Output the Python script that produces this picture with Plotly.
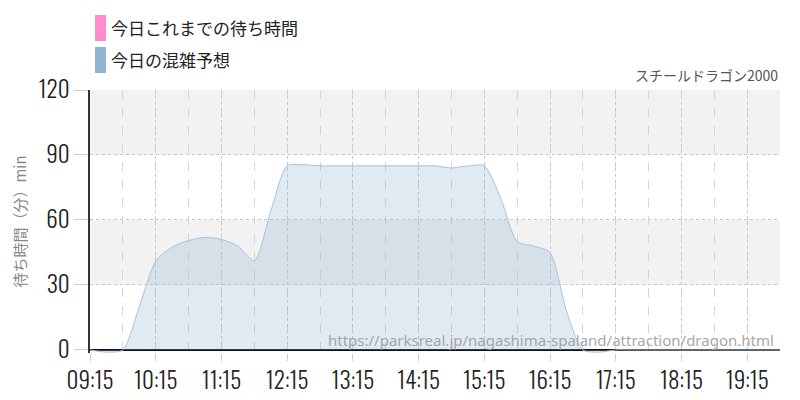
import plotly.graph_objects as go

# ---- data ----
times = ["09:15", "09:30", "09:45", "10:00", "10:15", "10:30", "10:45", "11:00", "11:15",
         "11:30", "11:45", "12:00", "12:15", "12:30", "12:45", "13:00", "13:15", "13:30",
         "13:45", "14:00", "14:15", "14:30", "14:45", "15:00", "15:15", "15:30", "15:45",
         "16:00", "16:15", "16:30", "16:45", "17:00", "17:15", "17:30", "17:45", "18:00",
         "18:15", "18:30", "18:45", "19:00", "19:15", "19:30", "19:45"]
forecast = [0, -1, 0, 20, 41, 47.5, 50.5, 52, 51,
            48, 41, 64, 85, 85.5, 85, 85, 85, 85,
            85, 85, 85, 85, 84, 85, 85, 70, 50,
            48, 45, 18, 0, -1, 0, 0, 0, 0,
            0, 0, 0, 0, 0, 0, 0]
actual_times = []
actual_values = []
tick_labels = ["09:15", "10:15", "11:15", "12:15", "13:15", "14:15", "15:15",
               "16:15", "17:15", "18:15", "19:15"]
y_ticks = [0, 30, 60, 90, 120]
band_ranges = [(30, 60), (90, 120)]

title_text = "スチールドラゴン2000"
legend_labels = ["今日これまでの待ち時間", "今日の混雑予想"]
legend_colors = ["#ff8ccb", "#8fb3d3"]
y_title = "待ち時間（分）min"
url_text = "https://parksreal.jp/nagashima-spaland/attraction/dragon.html"

day = "2024-01-01 "
xs = [day + t for t in times]

W, H = 800, 400
ML, MR, MT, MB = 90, 20, 90, 47
PW, PH = W - ML - MR, H - MT - MB

def px(xp):
    return (xp - ML) / PW

def py(yp):
    return (H - MB - yp) / PH

fig = go.Figure()

fig.add_trace(go.Scatter(
    x=[day + t for t in actual_times], y=actual_values, mode="lines",
    line=dict(color=legend_colors[0], width=1), fill="tozeroy",
    showlegend=False))

fig.add_trace(go.Scatter(
    x=xs, y=forecast, mode="lines",
    line=dict(color="#a7c3dc", width=1, shape="spline", smoothing=0.7),
    fill="tozeroy", fillcolor="rgba(143,179,211,0.28)",
    showlegend=False, hoverinfo="skip"))

shapes = []
for lo, hi in band_ranges:
    shapes.append(dict(type="rect", xref="paper", yref="y", x0=0, x1=1, y0=lo, y1=hi,
                       fillcolor="#f2f2f2", line=dict(width=0), layer="below"))

annotations = []
for i, (lab, col) in enumerate(zip(legend_labels, legend_colors)):
    top = 15 + i * 32
    shapes.append(dict(type="rect", xref="paper", yref="paper",
                       x0=px(95), x1=px(106), y0=py(top + 26), y1=py(top),
                       fillcolor=col, line=dict(width=0)))
    annotations.append(dict(xref="paper", yref="paper", x=px(109), y=py(top + 13),
                            text=lab, showarrow=False, xanchor="left", yanchor="middle",
                            font=dict(size=17, color="#222", family="Noto Sans CJK JP")))

annotations.append(dict(xref="paper", yref="paper", x=1, y=py(87), text=title_text,
                        showarrow=False, xanchor="right", yanchor="bottom",
                        font=dict(size=14, color="#555", family="Noto Sans CJK JP")))
annotations.append(dict(xref="paper", yref="paper", x=px(776), y=py(340), text=url_text,
                        showarrow=False, xanchor="right", yanchor="middle",
                        font=dict(size=15, color="rgba(150,150,150,0.85)", family="Noto Sans")))

tick_font = dict(family="Oswald, Roboto Condensed, sans-serif", weight=300,
                 size=23, color="#222")

fig.update_layout(
    width=W, height=H, margin=dict(l=ML, r=MR, t=MT, b=MB),
    paper_bgcolor="white", plot_bgcolor="white",
    shapes=shapes, annotations=annotations, showlegend=False,
    xaxis=dict(
        type="date", range=[day + "09:15", day + "19:45"], automargin=False,
        tickvals=[day + t for t in tick_labels], ticktext=tick_labels,
        showgrid=True, gridcolor="#c8c8c8", griddash="dot", gridwidth=1,
        ticks="outside", ticklen=7, tickcolor="#cccccc",
        showline=False, zeroline=False, tickfont=tick_font,
        minor=dict(dtick=1800000, tick0=day + "09:45", showgrid=True,
                   gridcolor="#d6d6d6", griddash="dash", ticks=""),
    ),
    yaxis=dict(
        range=[-1.4, 120], tickvals=y_ticks, showgrid=True, gridcolor="#c8c8c8",
        griddash="dot", ticks="outside", ticklen=14, tickcolor="#cccccc", automargin=False,
        showline=True, linecolor="#333", linewidth=1.5,
        zeroline=True, zerolinecolor="#111", zerolinewidth=1.5,
        tickfont=tick_font,
        title=dict(text=y_title, font=dict(size=15, color="#888", family="Noto Sans CJK JP"),
                   standoff=8),
    ),
)

fig.write_html("out.html", config={"displayModeBar": False},
               post_script="document.body.style.margin='0';document.body.style.overflow='hidden';")
